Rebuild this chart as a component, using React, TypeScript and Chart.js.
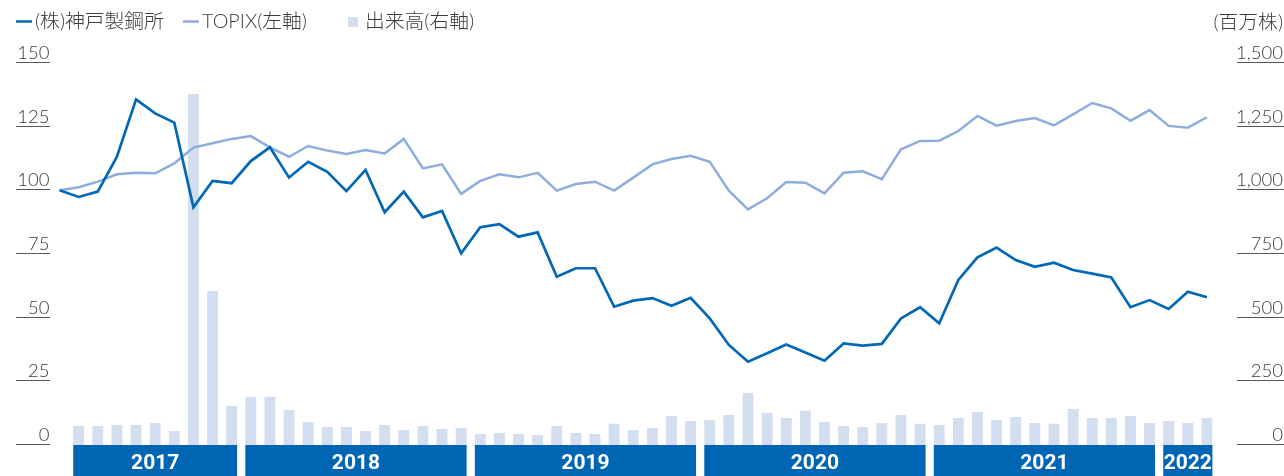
import React, { useEffect, useRef } from "react";
import { Chart, registerables } from "chart.js";

Chart.register(...registerables);

// Month categories (March 2017 = base 100, then April 2017 .. March 2022)
const months = [
  "2017/03", "2017/04", "2017/05", "2017/06", "2017/07", "2017/08", "2017/09", "2017/10", "2017/11", "2017/12",
  "2018/01", "2018/02", "2018/03", "2018/04", "2018/05", "2018/06", "2018/07", "2018/08", "2018/09", "2018/10", "2018/11", "2018/12",
  "2019/01", "2019/02", "2019/03", "2019/04", "2019/05", "2019/06", "2019/07", "2019/08", "2019/09", "2019/10", "2019/11", "2019/12",
  "2020/01", "2020/02", "2020/03", "2020/04", "2020/05", "2020/06", "2020/07", "2020/08", "2020/09", "2020/10", "2020/11", "2020/12",
  "2021/01", "2021/02", "2021/03", "2021/04", "2021/05", "2021/06", "2021/07", "2021/08", "2021/09", "2021/10", "2021/11", "2021/12",
  "2022/01", "2022/02", "2022/03",
];

// (株)神戸製鋼所 relative share price (left axis)
const kobe = [
  100, 97.4, 99.5, 113.2, 135.7, 130.2, 126.6, 93.3, 103.7, 102.8,
  111.5, 116.9, 105, 111.2, 107.3, 99.7, 108, 91.4, 99.5, 89.4, 91.9, 75.3,
  85.5, 86.7, 81.8, 83.5, 66.1, 69.4, 69.4, 54.3, 56.7, 57.7, 54.7, 57.8,
  49.7, 39.3, 32.7, 36, 39.5, 36.3, 33.1, 39.9, 39.0, 39.7, 49.7, 54.1,
  47.8, 64.8, 73.7, 77.5, 72.6, 70.0, 71.6, 68.7, 67.3, 65.8, 54.1, 56.9,
  53.4, 60.2, 58,
];

// TOPIX relative (left axis)
const topix = [
  100, 101.2, 103.4, 106.3, 106.9, 106.7, 110.6, 116.8, 118.5, 120.2,
  121.3, 116.9, 113.2, 117.4, 115.6, 114.3, 115.8, 114.5, 120.2, 108.6, 110.2, 98.6,
  103.7, 106.3, 105.1, 106.9, 99.9, 102.5, 103.4, 99.9, 105, 110.2, 112.3, 113.6,
  111.2, 99.9, 92.5, 96.9, 103.3, 103, 98.8, 106.9, 107.5, 104.4, 116.1, 119.4,
  119.5, 123.3, 129.2, 125.4, 127.2, 128.4, 125.5, 129.8, 134.3, 132.2, 127.3, 131.5,
  125.3, 124.6, 128.7,
];

// 出来高 (millions of shares, right axis)
const volume = [
  null,
  75, 75, 79, 79, 86, 55, 1378, 605, 153,
  189, 189, 137, 90, 71, 71, 55, 79, 59, 75, 63, 67,
  43, 47, 43, 39, 75, 47, 43, 83, 59, 67, 114, 94,
  98, 118, 204, 126, 106, 134, 90, 75, 71, 86, 118, 83,
  79, 106, 130, 98, 110, 86, 83, 141, 106, 106, 114, 86,
  94, 86, 106,
];

const leftTicks = [0, 25, 50, 75, 100, 125, 150];
const rightTicks = [0, 250, 500, 750, 1000, 1250, 1500];
const rightTickLabels = ["0", "250", "500", "750", "1,000", "1,250", "1,500"];
const legendLabels = ["(株)神戸製鋼所", "TOPIX(左軸)", "出来高(右軸)"];
const unitLabel = "(百万株)";

const KOBE_COLOR = "#0068B6";
const TOPIX_COLOR = "#8DAEDC";
const VOL_COLOR = "#D3DEEF";
const BAND_COLOR = "#0066B3";
const TEXT_COLOR = "#3E3A39";
const RULE_COLOR = "#595757";

const NUM_FONT = "300 18.5px Lato, 'Noto Sans', sans-serif";
const LEGEND_FONT = "300 19.8px Lato, 'Noto Sans CJK JP', sans-serif";
const YEAR_FONT = "bold 21px Roboto, 'Noto Sans', sans-serif";

const decorPlugin = {
  id: "decor",
  afterDraw(chart: any) {
    const ctx: CanvasRenderingContext2D = chart.ctx;
    const area = chart.chartArea;
    const W = chart.width;
    const yL = chart.scales.y;
    const yR = chart.scales.y1;
    ctx.save();

    // Left axis: label above a short rule
    ctx.strokeStyle = RULE_COLOR;
    ctx.lineWidth = 1;
    ctx.fillStyle = TEXT_COLOR;
    ctx.font = NUM_FONT;
    ctx.textAlign = "right";
    ctx.textBaseline = "alphabetic";
    leftTicks.forEach((v) => {
      const py = Math.round(yL.getPixelForValue(v)) - 0.5;
      ctx.beginPath();
      ctx.moveTo(16, py);
      ctx.lineTo(area.left, py);
      ctx.stroke();
      ctx.fillText(String(v), area.left - 0.5, py - 3.5);
    });

    // Right axis
    rightTicks.forEach((v, i) => {
      const py = Math.round(yR.getPixelForValue(v)) - 0.5;
      ctx.beginPath();
      ctx.moveTo(area.right + 20.5, py);
      ctx.lineTo(W, py);
      ctx.stroke();
      ctx.fillText(rightTickLabels[i], W - 1, py - 3.5);
    });

    // Unit label
    ctx.font = LEGEND_FONT;
    ctx.textBaseline = "middle";
    ctx.fillText(unitLabel, W - 1, 23);

    // Legend
    ctx.textAlign = "left";
    const items = [
      { kind: "line", color: KOBE_COLOR, x: 16 },
      { kind: "line", color: TOPIX_COLOR, x: 183 },
      { kind: "box", color: VOL_COLOR, x: 348 },
    ];
    let cursor = 0;
    items.forEach((it, i) => {
      const x0 = Math.max(it.x, cursor);
      let tx;
      if (it.kind === "line") {
        ctx.strokeStyle = it.color;
        ctx.lineWidth = 2.5;
        ctx.beginPath();
        ctx.moveTo(x0, 21.5);
        ctx.lineTo(x0 + 16, 21.5);
        ctx.stroke();
        tx = x0 + 19;
      } else {
        ctx.fillStyle = it.color;
        ctx.fillRect(x0, 17, 10, 10);
        tx = x0 + 17;
      }
      ctx.fillStyle = TEXT_COLOR;
      ctx.fillText(legendLabels[i], tx, 22);
      cursor = tx + ctx.measureText(legendLabels[i]).width + 16;
    });

    // Year bands below the bars
    const meta = chart.getDatasetMeta(2);
    const groups: { year: string; first: number; last: number }[] = [];
    months.forEach((m, i) => {
      if (volume[i] === null) return;
      const yr = m.slice(0, 4);
      const g = groups[groups.length - 1];
      if (g && g.year === yr) g.last = i;
      else groups.push({ year: yr, first: i, last: i });
    });
    ctx.font = YEAR_FONT;
    ctx.textAlign = "center";
    ctx.textBaseline = "middle";
    groups.forEach((g) => {
      const b0 = meta.data[g.first];
      const b1 = meta.data[g.last];
      const left = b0.x - b0.width / 2;
      const right = b1.x + b1.width / 2;
      ctx.fillStyle = BAND_COLOR;
      ctx.fillRect(left, area.bottom, right - left, chart.height - area.bottom);
      ctx.fillStyle = "#FFFFFF";
      ctx.fillText(g.year, (left + right) / 2, area.bottom + 19);
    });

    ctx.restore();
  },
};

export default function App() {
  const ref = useRef<HTMLCanvasElement>(null);
  useEffect(() => {
    document.body.style.margin = "0";
    const chart = new Chart(ref.current as HTMLCanvasElement, {
      type: "bar",
      data: {
        labels: months,
        datasets: [
          {
            type: "line",
            label: legendLabels[0],
            data: kobe,
            yAxisID: "y",
            borderColor: KOBE_COLOR,
            borderWidth: 2.7,
            pointRadius: 0,
            tension: 0,
            order: 0,
          } as any,
          {
            type: "line",
            label: legendLabels[1],
            data: topix,
            yAxisID: "y",
            borderColor: TOPIX_COLOR,
            borderWidth: 2.5,
            pointRadius: 0,
            tension: 0,
            order: 1,
          } as any,
          {
            type: "bar",
            label: legendLabels[2],
            data: volume,
            yAxisID: "y1",
            backgroundColor: VOL_COLOR,
            categoryPercentage: 1,
            barPercentage: 0.57,
            order: 2,
          } as any,
        ],
      },
      options: {
        responsive: false,
        animation: false,
        events: [],
        layout: { padding: { left: 50, right: 67.5, top: 63, bottom: 31 } },
        plugins: { legend: { display: false }, tooltip: { enabled: false } },
        scales: {
          x: { display: false, offset: true },
          y: { display: false, position: "left", min: 0, max: 150 },
          y1: { display: false, position: "right", min: 0, max: 1500 },
        },
      },
      plugins: [decorPlugin],
    });
    return () => chart.destroy();
  }, []);
  return (
    <canvas
      ref={ref}
      width={1284}
      height={476}
      style={{ display: "block", position: "absolute", left: 0, top: 0 }}
    />
  );
}
